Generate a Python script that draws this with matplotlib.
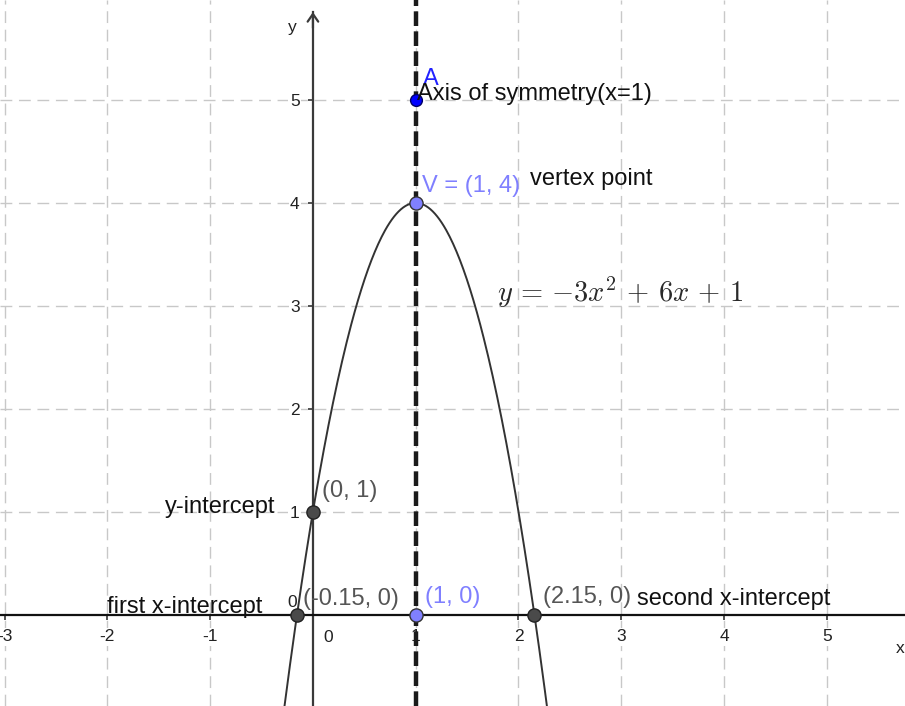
import numpy as np
import matplotlib
matplotlib.use("Agg")
import matplotlib.pyplot as plt

plt.rcParams["font.family"] = ["Liberation Sans", "DejaVu Sans"]
plt.rcParams["mathtext.fontset"] = "cm"
plt.rcParams["axes.unicode_minus"] = False

# ---- data ----
coef = [-3, 6, 1]                      # y = a x^2 + b x + c
x_ticks = [-3, -2, -1, 1, 2, 3, 4, 5]
y_ticks = [1, 2, 3, 4, 5]
sym_x = 1                              # axis of symmetry
point_A = (1, 5)
point_A_label = "A"
equation_text = r"$y\,=\,{-3}x^2\,+\,6x\,+\,1$"
notes = ["Axis of symmetry(x=1)", "vertex point", "y-intercept",
         "first x-intercept", "second x-intercept"]

a, b, c = coef
roots = np.sort(np.roots(coef).real)
vx = -b / (2 * a)
vy = np.polyval(coef, vx)

# ---- figure ----
fig = plt.figure(figsize=(9.05, 7.06), dpi=100)
ax = fig.add_axes([0, 0, 1, 1])
xmin, xmax = -3.045, 5.761
ymin, ymax = -0.889, 5.972
ax.set_xlim(xmin, xmax)
ax.set_ylim(ymin, ymax)

# grid
ax.set_xticks(x_ticks)
ax.set_yticks(y_ticks)
ax.grid(True, color="#c8c8c8", lw=1.0, linestyle=(0, (8.5, 4.8)))

# axes through origin
for s in ["top", "right"]:
    ax.spines[s].set_visible(False)
ax.spines["left"].set_position(("data", 0))
ax.spines["bottom"].set_position(("data", 0))
ax.spines["left"].set_color("#3a3a3a")
ax.spines["bottom"].set_color("#111111")
ax.spines["left"].set_linewidth(1.6)
ax.spines["bottom"].set_linewidth(1.6)
ax.spines["left"].set_bounds(ymin, 5.855)
ax.tick_params(axis="x", direction="out", length=3.6, width=1.1, pad=7,
               labelsize=12.5, colors="#222222")
ax.tick_params(axis="y", direction="out", length=3.6, width=1.1, pad=6,
               labelsize=12.5, colors="#222222")
for lab in ax.get_xticklabels() + ax.get_yticklabels():
    lab.set_bbox(dict(facecolor="white", edgecolor="none", pad=1.0))

# y-axis arrow head
ax.annotate("", xy=(0, 5.855), xytext=(0, 5.70),
            arrowprops=dict(arrowstyle="->,head_length=0.55,head_width=0.38",
                            lw=1.6, color="#3a3a3a", shrinkA=0, shrinkB=0))
# axis names and origin labels
ax.text(5.713, -0.326, "x", fontsize=12.5, color="#222222", ha="center", va="center")
ax.text(-0.2, 5.70, "y", fontsize=12.5, color="#222222", ha="center", va="center")
ax.text(0.148, -0.219, "0", fontsize=12.5, color="#222222", ha="center", va="center")
ax.text(-0.2, 0.12, "0", fontsize=12.5, color="#222222", ha="center", va="center", zorder=1)

# parabola
xs = np.linspace(xmin, xmax, 800)
ax.plot(xs, np.polyval(coef, xs), color="#333333", lw=1.4, zorder=3)

# axis of symmetry
ax.axvline(sym_x, color="#1a1a1a", lw=3.2, linestyle=(0, (3.3, 1.2)), zorder=4)

# points
mk = dict(marker="o", ms=9.5, mew=1.0, ls="none", zorder=6)
gray_x = [roots[0], 0, roots[1]]
gray_y = [0, c, 0]
ax.plot(gray_x, gray_y, mfc="#4a4a4a", mec="#222222", **mk)
blue_x = [vx, vx]
blue_y = [vy, 0]
ax.plot(blue_x, blue_y, mfc="#8080ff", mec="#333333", **mk)
ax.plot([point_A[0]], [point_A[1]], marker="o", ms=8.5, mew=1.0, ls="none",
        mfc="#0000ff", mec="#000066", zorder=6)

fs = 17
gray_lab = "#555555"
light_blue = "#7f7fff"

def lab(xy, txt, dx, dy, color):
    ax.annotate(txt, xy=xy, xytext=(dx, dy), textcoords="offset pixels",
                fontsize=fs, color=color, ha="left", va="baseline", zorder=7)

lab((roots[0], 0), f"({roots[0]:.2f}, 0)", 6, 10, gray_lab)
lab((0, c), f"({0}, {c})", 9, 15, gray_lab)
lab((roots[1], 0), f"({roots[1]:.2f}, 0)", 9, 11.5, gray_lab)
lab((vx, vy), f"V = ({vx:g}, {vy:g})", 6, 11, light_blue)
lab((vx, 0), f"({vx:g}, 0)", 9, 11.5, light_blue)
lab(point_A, point_A_label, 7, 15, "#2222ff")

# black notes
note_pos = [(1.013, 5.0), (2.112, 4.174), (-1.44, 0.986), (-2.003, 0.015), (3.157, 0.092)]
for (tx, ty), t in zip(note_pos, notes):
    ax.text(tx, ty, t, fontsize=fs, color="#111111", ha="left", va="baseline", zorder=7)

ax.text(1.79, 3.037, equation_text, fontsize=20.5, color="#2a2a2a",
        ha="left", va="baseline", zorder=7)

fig.savefig("out.png", dpi=100)
